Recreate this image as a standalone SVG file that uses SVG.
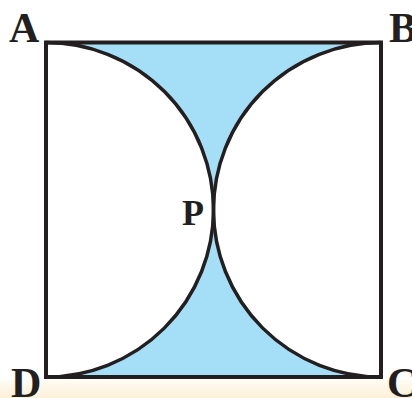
<svg xmlns="http://www.w3.org/2000/svg" width="412" height="398" viewBox="0 0 412 398">
  <defs>
    <linearGradient id="strip" x1="0" y1="0" x2="0" y2="1">
      <stop offset="0" stop-color="#fffcf4"/>
      <stop offset="1" stop-color="#fdf0d8"/>
    </linearGradient>
  </defs>
  <style>
    .lbl { font-family: "Liberation Serif", "Times New Roman", serif; font-weight: bold; fill: #231f20; }
    .edge { fill: none; stroke: #231f20; stroke-width: 4; }
    .arc { fill: none; stroke: #231f20; stroke-width: 3.5; }
  </style>
  <rect x="0" y="0" width="412" height="398" fill="#ffffff"/>
  <rect x="0" y="380" width="412" height="18" fill="url(#strip)"/>
  <g id="shaded">
    <path d="M46,42.5 A167.5 167.5 0 0 1 213.5,210 A167.5 167.5 0 0 1 46,377 L381,377 A167.5 167.5 0 0 1 213.5,210 A167.5 167.5 0 0 1 381,42.5 Z" fill="#a4dff7"/>
  </g>
  <g id="connectors">
    <rect class="edge" x="46" y="42.5" width="335" height="334.5"/>
    <path class="arc" d="M46,42.5 A167.5 167.5 0 0 1 213.5,210 A167.5 167.5 0 0 1 46,377"/>
    <path class="arc" d="M381,377 A167.5 167.5 0 0 1 213.5,210 A167.5 167.5 0 0 1 381,42.5"/>
  </g>
  <g id="A"><text class="lbl" x="9" y="42" font-size="42">A</text></g>
  <g id="B"><text class="lbl" x="389" y="42" font-size="42">B</text></g>
  <g id="C"><text class="lbl" x="387" y="397" font-size="42">C</text></g>
  <g id="D"><text class="lbl" x="11" y="397" font-size="42">D</text></g>
  <g id="P"><text class="lbl" x="182" y="225" font-size="36">P</text></g>
</svg>
